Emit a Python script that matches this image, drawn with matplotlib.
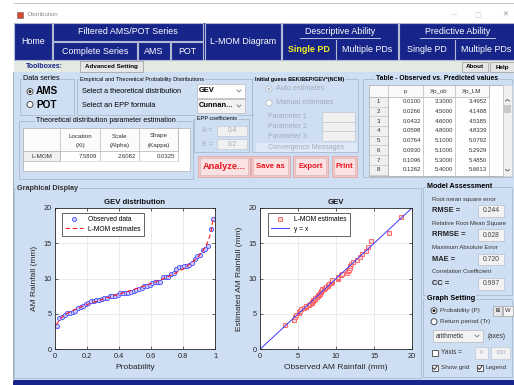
import matplotlib
matplotlib.use("Agg")
import matplotlib.pyplot as plt
from matplotlib.patches import Rectangle, Circle
from matplotlib.lines import Line2D

plt.rcParams['font.family'] = ['Liberation Sans', 'DejaVu Sans']

# ---------------- data ----------------
prob = [0.0100, 0.0266, 0.0432, 0.0598, 0.0764, 0.0930, 0.1096, 0.1262, 0.1429, 0.1595,
        0.1761, 0.1927, 0.2093, 0.2259, 0.2425, 0.2591, 0.2757, 0.2924, 0.3090, 0.3256,
        0.3422, 0.3588, 0.3754, 0.3920, 0.4086, 0.4252, 0.4419, 0.4585, 0.4751, 0.4917,
        0.5083, 0.5249, 0.5415, 0.5581, 0.5748, 0.5914, 0.6080, 0.6246, 0.6412, 0.6578,
        0.6744, 0.6910, 0.7076, 0.7243, 0.7409, 0.7575, 0.7741, 0.7907, 0.8073, 0.8239,
        0.8405, 0.8571, 0.8738, 0.8904, 0.9070, 0.9236, 0.9402, 0.9568, 0.9734, 0.9900]

observed = [3.3, 4.5, 4.6, 4.8, 5.1, 5.1, 5.3, 5.4, 5.8, 6.0,
            6.1, 6.4, 6.6, 6.8, 6.9, 7.0, 7.0, 7.1, 7.2, 7.3,
            7.5, 7.6, 7.6, 7.7, 7.9, 7.9, 8.0, 8.0, 8.1, 8.2,
            8.4, 8.5, 8.7, 8.9, 9.0, 9.1, 9.4, 9.5, 9.5, 9.5,
            10.2, 10.2, 10.3, 10.6, 10.8, 11.4, 11.6, 11.7, 11.8, 11.8,
            12.0, 12.2, 12.8, 13.2, 13.4, 14.0, 14.2, 14.6, 17.0, 18.5]

lmom_est = [3.4952, 4.1488, 4.5385, 4.8339, 5.0792, 5.2929, 5.4850, 5.6613, 5.83, 5.98,
            6.13, 6.27, 6.41, 6.54, 6.67, 6.79, 6.92, 7.04, 7.16, 7.28,
            7.40, 7.52, 7.63, 7.75, 7.87, 7.99, 8.11, 8.23, 8.35, 8.47,
            8.59, 8.72, 8.85, 8.98, 9.11, 9.24, 9.38, 9.52, 9.67, 9.82,
            9.97, 10.14, 10.30, 10.48, 10.66, 10.85, 11.06, 11.27, 11.50, 11.75,
            12.02, 12.31, 12.64, 13.00, 13.43, 13.92, 14.53, 15.32, 16.47, 18.73]

identity_xy = [0, 20]

param_headers = [("Location", "(Xi)"), ("Scale", "(Alpha)"), ("Shape", "(Kappa)")]
param_values = [7.5809, 2.6082, 0.0325]

epp_a, epp_b = 0.4, 0.2
table_rows = 8

metrics = [("Root mean square error", "RMSE =", "0.244"),
           ("Relative Root Mean Square", "RRMSE =", "0.028"),
           ("Maximum Absolute Error", "MAE =", "0.720"),
           ("Correlation Coefficient", "CC =", "0.997")]

# ---------------- canvas ----------------
W, H = 514, 385
fig = plt.figure(figsize=(W / 100, H / 100), dpi=100)
bg = fig.add_axes([0, 0, 1, 1])
bg.set_xlim(0, W)
bg.set_ylim(H, 0)
bg.axis('off')

NAVY = '#17258a'
PANEL = '#cfdff3'
FRAME = '#a9b9cf'
GREY_TXT = '#a3abba'


def box(x0, y0, x1, y1, fc='none', ec='none', lw=0.7, z=1):
    bg.add_patch(Rectangle((x0, y0), x1 - x0, y1 - y0, facecolor=fc,
                           edgecolor=ec, linewidth=lw, zorder=z))


def txt(x, y, s, size=5.0, color='black', weight='normal', ha='left', va='center', z=5, **kw):
    bg.text(x, y, s, fontsize=size, color=color, fontweight=weight,
            ha=ha, va=va, zorder=z, **kw)


def line(xs, ys, color, lw=0.7, z=3):
    bg.add_line(Line2D(xs, ys, color=color, linewidth=lw, zorder=z))


def group(x0, y0, x1, y1, label, size=4.2, weight='normal', lx=None, ha='left'):
    box(x0, y0, x1, y1, ec=FRAME, lw=0.6, z=2)
    txt(x0 + 3 if lx is None else lx, y0, label, size=size, weight=weight, ha=ha, z=4,
        bbox=dict(facecolor=PANEL, edgecolor='none', pad=0.6))


def radio(x, y, on, enabled=True):
    ec = '#333333' if enabled else '#b0b8c4'
    bg.add_patch(Circle((x, y), 3.0, facecolor='white', edgecolor=ec, linewidth=0.6, zorder=4))
    if on:
        bg.add_patch(Circle((x, y), 1.5, facecolor='#222222' if enabled else '#b0b8c4',
                            edgecolor='none', zorder=5))


def checkbox(x, y, on):
    box(x, y - 3, x + 6, y + 3, fc='white', ec='#444444', lw=0.6, z=4)
    if on:
        line([x + 1.2, x + 2.6, x + 4.9], [y, y + 1.6, y - 1.8], '#333333', lw=0.7, z=5)


def arrow_down(x, y, color='#777777'):
    line([x - 2, x, x + 2], [y - 1, y + 1, y - 1], color, lw=0.6, z=5)


# window chrome
box(0, 0, W, H, fc='white', z=0)
line([14, W], [3, 3], '#b8b8b8', lw=0.6)
box(17, 12, 23, 18, fc='#d84830', ec='#606060', lw=0.4)
txt(28, 15, "Distribution", size=4.4, color='#8a8a8a')
txt(454, 15, "\u2014", size=4.5, color='#b0b0b0', ha='center')
txt(478, 15, "\u2610", size=5.5, color='#c8c8c8', ha='center', family='DejaVu Sans')
txt(505, 15, "\u2715", size=5.0, color='#909090', ha='center', family='DejaVu Sans')

# navigation band
box(14, 23, W, 60, fc=NAVY, z=1)
nav_edge = '#b4bad6'
for (x0, y0, x1, y1, lab) in [(14, 23, 52, 60, "Home"),
                              (53, 23, 203, 41, "Filtered AMS/POT Series"),
                              (53, 42, 137, 60, "Complete Series"),
                              (138, 42, 170, 60, "AMS"),
                              (171, 42, 203, 60, "POT"),
                              (205, 23, 281, 60, "L-MOM Diagram")]:
    box(x0, y0, x1, y1, fc=NAVY, ec=nav_edge, lw=0.8, z=2)
    txt((x0 + x1) / 2, (y0 + y1) / 2, lab, size=6.4, color='white', ha='center')
box(282, 23, 398, 60, fc=NAVY, ec=nav_edge, lw=0.8, z=2)
box(399, 23, W + 2, 60, fc=NAVY, ec=nav_edge, lw=0.8, z=2)
line([336, 336], [40, 60], nav_edge, lw=0.8)
line([455, 455], [40, 60], nav_edge, lw=0.8)
line([300, 380], [38, 38], '#d8dcf0', lw=0.6)
line([420, 495], [38, 38], '#d8dcf0', lw=0.6)
txt(340, 31, "Descriptive Ability", size=6.4, color='white', ha='center')
txt(458, 31, "Predictive Ability", size=6.4, color='white', ha='center')
txt(309, 49.5, "Single PD", size=6.4, color='#f4f020', weight='bold', ha='center')
txt(367, 49.5, "Multiple PDs", size=6.4, color='white', ha='center')
txt(427, 49.5, "Single PD", size=6.4, color='white', ha='center')
txt(486, 49.5, "Multiple PDs", size=6.4, color='white', ha='center')

# toolbar
box(14, 60, W, 72, fc='#e2eae2', z=1)
txt(26, 66.5, "Toolboxes:", size=5.1, color=NAVY, weight='bold')
box(80, 61, 143, 72, fc='#e6e6e6', ec='#9a9a9a', lw=0.5, z=2)
txt(111.5, 66.8, "Advanced Setting", size=4.5, weight='bold', ha='center')
box(462, 62, 488, 72, fc='#e6e6e6', ec='#9a9a9a', lw=0.5, z=2)
txt(475, 67, "About", size=4.5, weight='bold', ha='center')
box(490, 62, W + 2, 72, fc='#e6e6e6', ec='#9a9a9a', lw=0.5, z=2)
txt(502, 67, "Help", size=4.5, weight='bold', ha='center')

# main panel
box(13, 72, W, 380, fc=PANEL, z=0.5)
line([13, 13], [72, 380], '#9aa4b4', lw=0.6)
box(13, 380, W, H, fc=NAVY, z=1)

# data series
group(20, 79, 74, 115, "Data series", size=5.2)
radio(30, 91.5, True)
txt(36, 91.5, "AMS", size=7.2, weight='bold')
radio(30, 104.5, False)
txt(36, 104.5, "POT", size=7.2, weight='bold')

# distributions
group(77, 79, 252, 115, "Empirical and Theoretical Probability Distributions", size=4.1)
txt(82, 91.7, "Select a theoretical distribution", size=5.3)
txt(82, 105.7, "Select an EPP formula", size=5.3)
box(197, 84, 245, 98, fc='white', ec='#b8b8b8', lw=0.5, z=3)
txt(199, 91, "GEV", size=5.4, weight='bold')
arrow_down(239, 91)
box(197, 99, 245, 112.5, fc='#f2f2f2', ec='#b8b8b8', lw=0.5, z=3)
txt(199, 105.8, "Cunnan...", size=5.4, weight='bold')
arrow_down(239, 106)

# parameter estimation table
group(19, 121, 193, 179, "Theoretical distribution parameter estimation", size=5.0, lx=106, ha='center')
box(23, 128, 190, 171, fc='white', ec='#b0b0b0', lw=0.5, z=3)
col_edges = [23, 60, 100, 139, 178]
box(23, 128, 178, 151, fc='#fbfbfb', ec='#b0b0b0', lw=0.5, z=3)
box(23, 151, 60, 161, fc='#f0f0f0', ec='#b0b0b0', lw=0.5, z=3)
for c in range(1, 4):
    line([col_edges[c], col_edges[c]], [128, 161], '#b8b8b8', lw=0.5, z=4)
    h1, h2 = param_headers[c - 1]
    mid = (col_edges[c] + col_edges[c + 1]) / 2
    txt(mid, 136, h1, size=4.5, ha='center', color='#333333')
    txt(mid, 146, h2, size=4.5, ha='center', color='#333333')
    txt(col_edges[c + 1] - 3, 156, f"{param_values[c - 1]:.4f}", size=4.3, ha='right', color='#333333')
line([col_edges[4], col_edges[4]], [128, 161], '#b8b8b8', lw=0.5, z=4)
line([60, 178], [161, 161], '#d0d0d0', lw=0.4, z=4)
txt(41.5, 156, "L-MOM", size=4.5, ha='center', color='#333333')

# EPP coefficients
group(194, 118.5, 249, 152, "EPP coefficients", size=4.0)
for y, lab, val in [(131, "A =", epp_a), (144, "B =", epp_b)]:
    txt(202, y, lab, size=5.0, color=GREY_TXT)
    box(217, y - 5, 247, y + 5, fc='#f0f0f0', ec='#c0c8d4', lw=0.5, z=3)
    txt(232, y, f"{val}", size=4.8, color=GREY_TXT, ha='center')

# action buttons
for (x0, x1, lab, sz) in [(198, 250, "Analyze...", 6.7), (251, 290, "Save as", 5.6),
                          (293, 328, "Export", 5.6), (332, 357, "Print", 5.6)]:
    box(x0, 156, x1, 177, fc='#f1c9c9', ec='#e3a6a6', lw=0.6, z=2)
    box(x0 + 2, 158, x1 - 2, 175, fc='#fbe2e2', ec='#d0b0b0', lw=0.4, z=3)
    txt((x0 + x1) / 2, 166.5, lab, size=sz, color='#e8141e', weight='bold', ha='center')

# initial guess
group(252, 79, 358, 152, "Initial guess BEK/BEP/GEV*(NCM)", size=4.0, weight='bold')
radio(269, 89, True, enabled=False)
txt(276, 89, "Auto estimates", size=5.3, color=GREY_TXT)
radio(269, 103, False, enabled=False)
txt(276, 103, "Manual estimates", size=5.3, color=GREY_TXT)
for k, y in enumerate([117, 126.5, 136]):
    txt(268, y, f"Parameter {k + 1}", size=5.0, color=GREY_TXT)
    box(322, y - 5, 355, y + 4.6, fc='#f0f0f0', ec='#c0c8d4', lw=0.5, z=3)
box(256, 143, 357, 152, fc='#dfe8f6', ec='none', z=3)
txt(306, 147.5, "Convergence Messages", size=5.0, color=GREY_TXT, ha='center')

# observed vs predicted table
box(363, 79, 512, 177, ec=FRAME, lw=0.6, z=2)
txt(437, 78.5, "Table - Observed vs. Predicted values", size=4.9, weight='bold', ha='center', z=4,
    bbox=dict(facecolor=PANEL, edgecolor='none', pad=0.6))
box(369, 85, 503, 176, fc='white', ec='#a0a0a0', lw=0.5, z=3)
tcols = [369, 388, 423, 455, 489]
box(369, 85, 489, 97, fc='#fafafa', ec='#b0b0b0', lw=0.5, z=3)
box(369, 97, 388, 176, fc='#f0f0f0', ec='#b0b0b0', lw=0.5, z=3)
for c in range(1, 5):
    line([tcols[c], tcols[c]], [85, 176], '#b8b8b8', lw=0.5, z=4)
for c, lab in enumerate(["p", "Xp_ob", "Xp_LM"]):
    txt((tcols[c + 1] + tcols[c + 2]) / 2, 91, lab, size=4.4, ha='center', color='#333333')
row_h = 9.7
for r in range(table_rows):
    yc = 101.8 + r * row_h
    line([369, 388], [yc + row_h / 2, yc + row_h / 2], '#b8b8b8', lw=0.4, z=4)
    txt(378.5, yc, f"{r + 1}", size=4.4, ha='center', color='#333333')
    txt(421, yc, f"{prob[r]:.4f}", size=4.3, ha='right', color='#333333')
    txt(453, yc, f"{observed[r]:.4f}", size=4.3, ha='right', color='#333333')
    txt(487, yc, f"{lmom_est[r]:.4f}", size=4.3, ha='right', color='#333333')
box(503, 85, 512, 176, fc='#f0f0f0', ec='#c8c8c8', lw=0.4, z=3)
box(504, 105, 511, 113, fc='#c9c9c9', z=4)
line([505.5, 507.5, 509.5], [101, 99.5, 101], '#555555', lw=0.6, z=5)
line([505.5, 507.5, 509.5], [169.5, 171, 169.5], '#555555', lw=0.6, z=5)

# graphical display frame
box(14, 188, 421, 378, ec=FRAME, lw=0.6, z=0.8)
txt(17, 188, "Graphical Display", size=5.2, weight='bold', color='#333333', z=4,
    bbox=dict(facecolor=PANEL, edgecolor='none', pad=0.6))

# model assessment
group(423, 187, 512, 295, "Model Assessment", size=5.2, weight='bold', lx=427)
for k, (desc, lab, val) in enumerate(metrics):
    y0 = 199 + k * 24.3
    txt(432, y0, desc, size=4.3, color='#333333')
    txt(432, y0 + 11.7, lab, size=5.4, weight='bold', color='#222222')
    box(478, y0 + 6, 504, y0 + 17.6, fc='#f2f2f2', ec='#b8c0cc', lw=0.5, z=3)
    txt(491, y0 + 12, val, size=4.9, ha='center', color='#444444')

# graph setting
group(423, 299, 512, 377, "Graph Setting", size=5.2, weight='bold', lx=427)
radio(434, 310.7, True)
txt(440, 310.7, "Probability (P)", size=4.6, color='#333333')
box(493, 306, 502, 315.5, fc='#e6e6e6', ec='#a0a0a0', lw=0.5, z=3)
txt(497.5, 310.7, "B", size=4.2, color='#333333', weight='bold', ha='center')
box(502.5, 306, 513, 315.5, fc='#f4f4f4', ec='#a0a0a0', lw=0.5, z=3)
txt(507.5, 310.7, "W", size=4.2, color='#333333', ha='center')
radio(434, 321.7, False)
txt(440, 321.7, "Return period (Tr)", size=4.6, color='#333333')
box(433, 330, 483, 342, fc='#f2f2f2', ec='#b8b8b8', lw=0.5, z=3)
txt(436, 336, "arithmetic", size=4.7, color='#333333')
arrow_down(477, 336)
txt(488, 336, "(axes)", size=4.7, color='#333333')
checkbox(432, 353, False)
txt(441, 353, "Yaxis =", size=4.7, color='#333333')
box(475, 347, 488, 359, fc='#f2f2f2', ec='#c0c8d4', lw=0.5, z=3)
txt(481.5, 353, "0", size=4.5, color=GREY_TXT, ha='center')
box(491, 347, 510, 359, fc='#f2f2f2', ec='#c0c8d4', lw=0.5, z=3)
txt(500.5, 353, "100", size=4.5, color=GREY_TXT, ha='center')
checkbox(432, 368, True)
txt(441, 368, "Show grid", size=4.6, color='#333333')
checkbox(477, 368, True)
txt(486, 368, "Legend", size=4.6, color='#333333')


# ---------------- plots ----------------
def axes_px(x0, y0, x1, y1):
    return fig.add_axes([x0 / W, 1 - y1 / H, (x1 - x0) / W, (y1 - y0) / H])


def style(ax):
    ax.set_facecolor('white')
    for s in ax.spines.values():
        s.set_color('#262626')
        s.set_linewidth(0.6)
    ax.tick_params(direction='in', length=2.0, width=0.5, labelsize=5.3,
                   colors='#262626', top=True, right=True, pad=2.5)
    ax.grid(True, color='#e3e3e3', linewidth=0.5)
    ax.set_axisbelow(True)


ax1 = axes_px(55, 208, 215, 349.3)
style(ax1)
ax1.plot(prob, observed, 'o', ms=3.0, mec='#4a4aff', mfc='#cfcfff', mew=0.6, label='Observed data')
ax1.plot(prob, lmom_est, color='#ff1a1a', lw=0.8, dashes=(4, 2.5), label='L-MOM estimates')
ax1.set_xlim(0, 1)
ax1.set_ylim(0, 20)
ax1.set_xticks([0, 0.2, 0.4, 0.6, 0.8, 1])
ax1.set_xticklabels(['0', '0.2', '0.4', '0.6', '0.8', '1'])
ax1.set_yticks([0, 5, 10, 15, 20])
ax1.set_title("GEV distribution", fontsize=5.6, fontweight='bold', pad=3, color='#111111')
ax1.set_xlabel("Probability", fontsize=6.0, color='#262626', labelpad=3)
ax1.set_ylabel("AM Rainfall (mm)", fontsize=6.0, color='#262626', labelpad=4)
leg1 = ax1.legend(loc='upper left', bbox_to_anchor=(0.044, 0.965), borderaxespad=0,
                  fontsize=4.8, fancybox=False, edgecolor='#262626', framealpha=1,
                  handlelength=2.6, borderpad=0.5, labelspacing=0.35)
leg1.get_frame().set_linewidth(0.5)

ax2 = axes_px(260, 208, 412, 349.3)
style(ax2)
ax2.plot(observed, lmom_est, 's', ms=2.6, mec='#ff5a5a', mfc='#ffd6d6', mew=0.6, label='L-MOM estimates')
ax2.plot(identity_xy, identity_xy, color='#3a3aff', lw=0.7, label='y = x')
ax2.set_xlim(0, 20)
ax2.set_ylim(0, 20)
ax2.set_xticks([0, 5, 10, 15, 20])
ax2.set_yticks([0, 5, 10, 15, 20])
ax2.set_title("GEV", fontsize=5.6, fontweight='bold', pad=3, color='#111111')
ax2.set_xlabel("Observed AM Rainfall (mm)", fontsize=6.0, color='#262626', labelpad=3)
ax2.set_ylabel("Estimated AM Rainfall (mm)", fontsize=6.0, color='#262626', labelpad=4)
leg2 = ax2.legend(loc='upper left', bbox_to_anchor=(0.053, 0.965), borderaxespad=0,
                  fontsize=4.8, fancybox=False, edgecolor='#262626', framealpha=1,
                  handlelength=2.6, borderpad=0.5, labelspacing=0.35)
leg2.get_frame().set_linewidth(0.5)

fig.savefig("out.png", dpi=100)
